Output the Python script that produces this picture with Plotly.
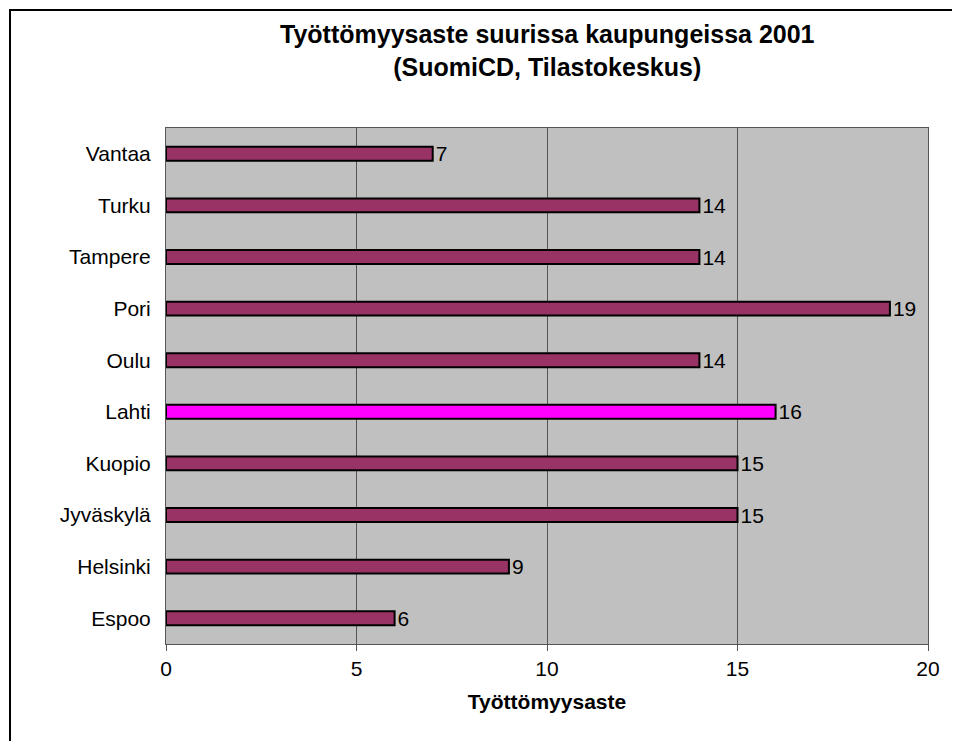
import plotly.graph_objects as go

cities = ["Espoo", "Helsinki", "Jyväskylä", "Kuopio", "Lahti", "Oulu", "Pori", "Tampere", "Turku", "Vantaa"]
rates = [6, 9, 15, 15, 16, 14, 19, 14, 14, 7]
colors = ["#FF00FF" if c == "Lahti" else "#993366" for c in cities]

fig = go.Figure(go.Bar(
    y=cities, x=rates, orientation="h", width=0.27,
    marker=dict(color=colors, line=dict(color="black", width=2)),
    text=[str(r) for r in rates], textposition="outside", constraintext="none",
    textfont=dict(size=21, color="black"), cliponaxis=False,
))

fig.update_layout(
    width=960, height=741,
    margin=dict(l=158, r=40, t=120, b=105),
    paper_bgcolor="white", plot_bgcolor="#C0C0C0",
    font=dict(family="Liberation Sans, Arial", size=21, color="black"),
    showlegend=False,
    xaxis=dict(range=[0, 20], dtick=5, showgrid=True, gridcolor="#555555", gridwidth=1,
               ticks="outside", ticklen=6, tickcolor="#555555", showline=True, linecolor="#555555",
               mirror=True, zeroline=False, automargin=False,
               title=dict(text="<b>Työttömyysaste</b>", font=dict(size=21), standoff=15)),
    yaxis=dict(showline=True, linecolor="#555555", mirror=True, ticks="", ticklabelstandoff=10,
               automargin=False),
    annotations=[dict(text="<b>Työttömyysaste suurissa kaupungeissa 2001<br>(SuomiCD, Tilastokeskus)</b>",
                      xref="paper", yref="paper", x=0.5, y=1 + 110/516, xanchor="center", yanchor="top",
                      showarrow=False, font=dict(size=25))],
    shapes=[dict(type="rect", xref="paper", yref="paper", x0=-156/762, x1=1+38/762,
                 y0=-103/516, y1=1+118/516, line=dict(color="black", width=2))],
)
fig.write_html("out.html")
